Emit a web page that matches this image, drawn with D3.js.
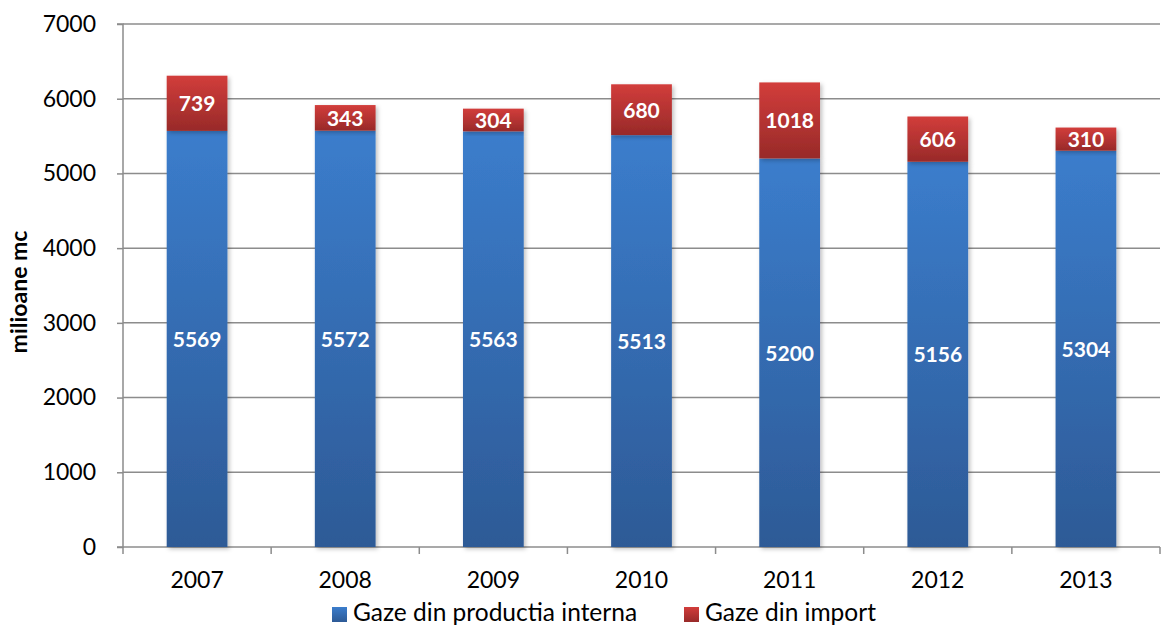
<!DOCTYPE html>
<html><head><meta charset="utf-8">
<script src="https://cdn.jsdelivr.net/npm/d3@7/dist/d3.min.js"></script>
<style>body{margin:0;background:#fff}svg{display:block}</style>
</head><body>
<svg id="c" width="1163" height="625"></svg>
<script>
const years = ["2007","2008","2009","2010","2011","2012","2013"];
const intern = [5569,5572,5563,5513,5200,5156,5304];
const importv = [739,343,304,680,1018,606,310];
const yTicks = [0,1000,2000,3000,4000,5000,6000,7000];
const seriesNames = ["Gaze din productia interna","Gaze din import"];

const svg = d3.select("#c");
const font = "Lato, 'Open Sans', sans-serif";
const m = {l:123, r:1160, t:24, b:547};
const x = d3.scaleBand().domain(years).range([m.l, m.r]).paddingInner(0.59).paddingOuter(0.295);
const xb = d3.scaleBand().domain(years).range([m.l, m.r]);
const y = d3.scaleLinear().domain([0,7000]).range([m.b, m.t]);

const defs = svg.append("defs");
const gb = defs.append("linearGradient").attr("id","gb").attr("x1",0).attr("y1",0).attr("x2",0).attr("y2",1);
gb.append("stop").attr("offset","0%").attr("stop-color","#3b7dcc");
gb.append("stop").attr("offset","100%").attr("stop-color","#2d5a96");
const gr = defs.append("linearGradient").attr("id","gr").attr("x1",0).attr("y1",0).attr("x2",0).attr("y2",1);
gr.append("stop").attr("offset","0%").attr("stop-color","#d23d3b");
gr.append("stop").attr("offset","100%").attr("stop-color","#982a29");
const f = defs.append("filter").attr("id","sh").attr("x","-10%").attr("y","-10%").attr("width","130%").attr("height","130%");
f.append("feDropShadow").attr("dx",2).attr("dy",2).attr("stdDeviation",2).attr("flood-color","#000").attr("flood-opacity",0.25);

// gridlines
svg.append("g").selectAll("line").data(yTicks.filter(d=>d>0)).join("line")
  .attr("x1",m.l).attr("x2",m.r).attr("y1",d=>y(d)).attr("y2",d=>y(d))
  .attr("stroke","#8c8c8c").attr("stroke-width",1.5);

// y axis
const ya = svg.append("g").attr("transform",`translate(${m.l},0)`)
  .call(d3.axisLeft(y).tickValues(yTicks).tickFormat(d3.format("d")).tickSize(6).tickPadding(21));
ya.select(".domain").attr("stroke","#8c8c8c").attr("stroke-width",1.5).attr("d",`M-6,${m.b}H0V${m.t}H-6`);
ya.selectAll(".tick line").attr("stroke","#8c8c8c").attr("stroke-width",1.5);
ya.selectAll(".tick text").attr("font-family",font).attr("font-size",23).attr("fill","#000");

// x axis
const xa = svg.append("g").attr("transform",`translate(0,${m.b})`)
  .call(d3.axisBottom(x).tickSize(0).tickPadding(25));
xa.select(".domain").attr("stroke","#8c8c8c").attr("stroke-width",1.5).attr("d",`M${m.l},0H${m.r}`);
xa.selectAll(".tick text").attr("font-family",font).attr("font-size",23).attr("fill","#000");
xa.append("g").selectAll("line").data(years.concat(["end"])).join("line")
  .attr("x1",(d,i)=>m.l+i*xb.bandwidth()).attr("x2",(d,i)=>m.l+i*xb.bandwidth())
  .attr("y1",0).attr("y2",7).attr("stroke","#8c8c8c").attr("stroke-width",1.5);

// bars
const data = years.map((yr,i)=>({yr, a:intern[i], b:importv[i]}));
const g = svg.append("g");
g.selectAll("rect.a").data(data).join("rect").attr("class","a")
  .attr("x",d=>x(d.yr)).attr("width",x.bandwidth())
  .attr("y",d=>y(d.a)).attr("height",d=>y(0)-y(d.a))
  .attr("fill","url(#gb)").attr("filter","url(#sh)");
g.selectAll("rect.b").data(data).join("rect").attr("class","b")
  .attr("x",d=>x(d.yr)).attr("width",x.bandwidth())
  .attr("y",d=>y(d.a+d.b)).attr("height",d=>y(d.a)-y(d.a+d.b))
  .attr("fill","url(#gr)").attr("filter","url(#sh)");

// labels
g.selectAll("text.la").data(data).join("text").attr("class","la")
  .attr("x",d=>x(d.yr)+x.bandwidth()/2).attr("y",d=>y(d.a/2))
  .attr("dy","0.38em").attr("text-anchor","middle")
  .attr("font-family",font).attr("font-weight","bold").attr("font-size",21).attr("fill","#fff")
  .text(d=>d.a);
g.selectAll("text.lb").data(data).join("text").attr("class","lb")
  .attr("x",d=>x(d.yr)+x.bandwidth()/2).attr("y",d=>y(d.a+d.b/2))
  .attr("dy","0.38em").attr("text-anchor","middle")
  .attr("font-family",font).attr("font-weight","bold").attr("font-size",21).attr("fill","#fff")
  .text(d=>d.b);

// y label
svg.append("text").attr("transform",`translate(27,292) rotate(-90)`)
  .attr("text-anchor","middle").attr("font-family",font).attr("font-weight","bold").attr("font-size",23)
  .text("milioane mc");

// legend
const leg = svg.append("g");
const lx = [332, 684];
const grads = ["url(#gb)","url(#gr)"];
seriesNames.forEach((n,i)=>{
  leg.append("rect").attr("x",lx[i]).attr("y",607).attr("width",15).attr("height",15).attr("fill",grads[i]);
  leg.append("text").attr("x",lx[i]+21).attr("y",621).attr("font-family",font).attr("font-size",24.5).text(n);
});
</script>
</body></html>
